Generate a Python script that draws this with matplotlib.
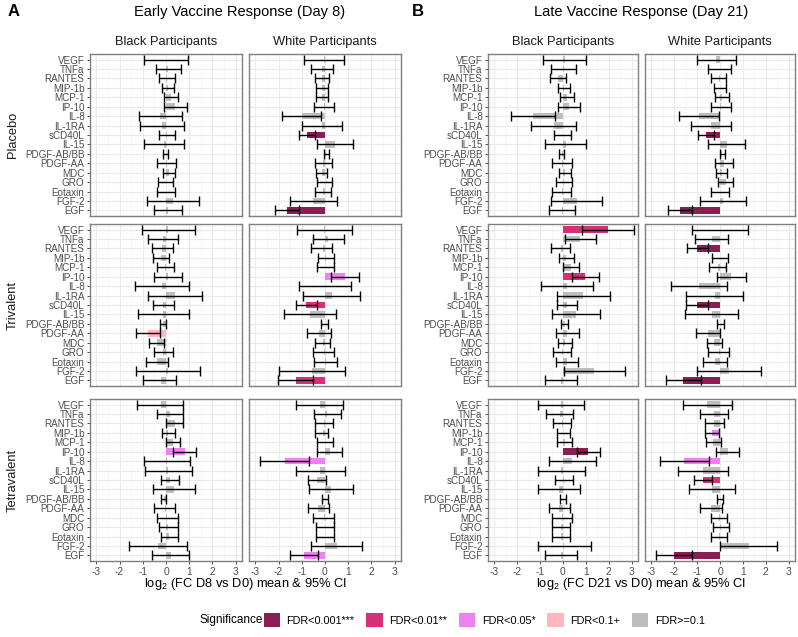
import numpy as np
import matplotlib
matplotlib.use('Agg')
import matplotlib.pyplot as plt
from matplotlib.patches import Patch

plt.rcParams['font.family'] = ['Liberation Sans', 'DejaVu Sans']
plt.rcParams['mathtext.fontset'] = 'custom'
plt.rcParams['mathtext.rm'] = 'Liberation Sans'

cytokines = ['VEGF', 'TNFa', 'RANTES', 'MIP-1b', 'MCP-1', 'IP-10', 'IL-8', 'IL-1RA', 'sCD40L',
             'IL-15', 'PDGF-AB/BB', 'PDGF-AA', 'MDC', 'GRO', 'Eotaxin', 'FGF-2', 'EGF']
groups = ['Placebo', 'Trivalent', 'Tetravalent']
races = ['Black Participants', 'White Participants']
sig_labels = ['FDR<0.001***', 'FDR<0.01**', 'FDR<0.05*', 'FDR<0.1+', 'FDR>=0.1']
sig_colors = ['#8B1D55', '#D63079', '#EE82EE', '#FFB6C1', '#BEBEBE']
# sig code: 0 = FDR<0.001 ... 4 = FDR>=0.1

# ---- Early (Day 8) ----
epb_mean = [0.0, 0.1, 0.04, 0.09, 0.21, 0.39, -0.24, -0.16, 0.04, -0.1, -0.01, 0.03, 0.12, -0.02, 0.0, 0.29, 0.07]
epb_lo = [-0.93, -0.43, -0.31, -0.19, -0.07, -0.1, -1.17, -1.11, -0.31, -0.96, -0.13, -0.39, -0.14, -0.36, -0.4, -0.81, -0.53]
epb_hi = [0.93, 0.64, 0.39, 0.36, 0.5, 0.89, 0.69, 0.79, 0.39, 0.76, 0.1, 0.44, 0.39, 0.31, 0.39, 1.4, 0.67]
epb_sig = [4, 4, 4, 4, 4, 4, 4, 4, 4, 4, 4, 4, 4, 4, 4, 4, 4]

epw_mean = [-0.04, -0.13, -0.14, -0.12, -0.14, -0.04, -1.01, -0.14, -0.77, 0.43, 0.05, -0.07, -0.13, -0.01, -0.09, -0.5, -1.62]
epw_lo = [-0.89, -0.61, -0.44, -0.37, -0.4, -0.49, -1.86, -1.0, -1.1, -0.33, -0.06, -0.44, -0.37, -0.33, -0.44, -1.5, -2.14]
epw_hi = [0.81, 0.36, 0.17, 0.13, 0.11, 0.4, -0.16, 0.73, -0.43, 1.19, 0.16, 0.31, 0.1, 0.31, 0.26, 0.5, -1.1]
epw_sig = [4, 4, 4, 4, 4, 4, 4, 4, 0, 4, 4, 4, 4, 4, 4, 4, 0]

etb_mean = [0.1, -0.13, -0.16, -0.21, -0.03, 0.09, -0.16, 0.39, -0.11, -0.11, -0.11, -0.76, -0.4, -0.11, -0.38, 0.07, -0.2]
etb_lo = [-1.04, -0.79, -0.6, -0.54, -0.39, -0.5, -1.33, -0.79, -0.54, -1.19, -0.24, -1.29, -0.74, -0.53, -0.87, -1.31, -0.97]
etb_hi = [1.24, 0.53, 0.29, 0.11, 0.33, 0.67, 1.0, 1.57, 0.33, 0.97, 0.01, -0.24, -0.07, 0.31, 0.1, 1.46, 0.44]
etb_sig = [4, 4, 4, 4, 4, 4, 4, 4, 4, 4, 4, 3, 4, 4, 4, 4, 4]

etw_mean = [-0.03, 0.13, -0.1, 0.04, 0.0, 0.86, 0.0, 0.29, -0.8, -0.64, -0.01, -0.25, -0.1, -0.06, 0.03, -0.55, -1.26]
etw_lo = [-1.21, -0.53, -0.61, -0.29, -0.36, 0.24, -1.11, -0.93, -1.26, -1.76, -0.16, -0.79, -0.43, -0.5, -0.47, -1.97, -2.01]
etw_hi = [1.15, 0.83, 0.29, 0.39, 0.4, 1.48, 1.1, 1.51, -0.33, 0.47, 0.14, 0.27, 0.23, 0.39, 0.53, 0.86, -0.5]
etw_sig = [4, 4, 4, 4, 4, 2, 4, 4, 1, 4, 4, 4, 4, 4, 4, 4, 1]

eqb_mean = [-0.22, 0.18, 0.38, 0.1, 0.29, 0.8, 0.04, 0.1, 0.17, 0.33, -0.1, -0.05, 0.05, 0.1, 0.15, -0.35, 0.2]
eqb_lo = [-1.24, -0.39, 0.01, -0.19, -0.01, 0.29, -0.96, -0.91, -0.2, -0.57, -0.2, -0.5, -0.4, -0.3, -0.2, -1.6, -0.6]
eqb_hi = [0.74, 0.74, 0.74, 0.39, 0.6, 1.29, 1.03, 1.1, 0.54, 1.24, 0.01, 0.39, 0.5, 0.5, 0.5, 0.9, 1.0]
eqb_sig = [4, 4, 4, 4, 4, 2, 4, 4, 4, 4, 4, 4, 4, 4, 4, 4, 4]

eqw_mean = [-0.2, 0.1, -0.04, -0.1, 0.0, 0.2, -1.74, -0.2, -0.34, 0.25, -0.01, -0.3, -0.05, 0.0, 0.0, 0.5, -0.9]
eqw_lo = [-1.26, -0.47, -0.43, -0.43, -0.33, -0.33, -2.79, -1.26, -0.74, -0.7, -0.14, -0.74, -0.5, -0.4, -0.4, -0.6, -1.5]
eqw_hi = [0.79, 0.69, 0.34, 0.14, 0.33, 0.74, -0.69, 0.84, 0.06, 1.2, 0.11, 0.17, 0.4, 0.4, 0.4, 1.6, -0.3]
eqw_sig = [4, 4, 4, 4, 4, 4, 2, 4, 4, 4, 4, 4, 4, 4, 4, 4, 2]

# ---- Late (Day 21) ----
lpb_mean = [0.07, 0.03, -0.22, 0.05, 0.17, 0.25, -1.31, -0.41, -0.02, 0.12, -0.06, -0.04, 0.09, 0.04, -0.06, 0.59, -0.04]
lpb_lo = [-0.88, -0.51, -0.58, -0.22, -0.12, -0.22, -2.26, -1.39, -0.39, -0.77, -0.18, -0.48, -0.18, -0.32, -0.48, -0.53, -0.63]
lpb_hi = [1.02, 0.57, 0.13, 0.32, 0.47, 0.73, -0.36, 0.57, 0.35, 1.01, 0.06, 0.39, 0.35, 0.39, 0.35, 1.71, 0.54]
lpb_sig = [4, 4, 4, 4, 4, 4, 4, 4, 4, 4, 4, 4, 4, 4, 4, 4, 4]

lpw_mean = [-0.16, -0.02, -0.05, 0.01, 0.09, 0.04, -0.93, -0.39, -0.63, 0.3, 0.1, 0.16, 0.07, 0.25, 0.0, 0.13, -1.74]
lpw_lo = [-1.02, -0.51, -0.38, -0.25, -0.2, -0.41, -1.8, -1.27, -0.98, -0.51, 0.0, -0.23, -0.18, -0.09, -0.38, -0.88, -2.26]
lpw_hi = [0.7, 0.47, 0.28, 0.26, 0.38, 0.5, -0.06, 0.5, -0.28, 1.11, 0.2, 0.55, 0.32, 0.58, 0.38, 1.14, -1.2]
lpw_sig = [4, 4, 4, 4, 4, 4, 4, 4, 0, 4, 4, 4, 4, 4, 4, 4, 0]

ltb_mean = [1.97, 0.76, -0.1, 0.15, 0.34, 0.98, 0.18, 0.88, 0.16, 0.56, 0.07, 0.19, 0.1, -0.05, 0.17, 1.37, -0.1]
ltb_lo = [0.83, 0.1, -0.54, -0.18, -0.01, 0.39, -0.95, -0.28, -0.28, -0.48, -0.07, -0.32, -0.22, -0.45, -0.32, 0.04, -0.8]
ltb_hi = [3.11, 1.42, 0.32, 0.47, 0.69, 1.56, 1.31, 2.04, 0.61, 1.61, 0.22, 0.7, 0.41, 0.36, 0.66, 2.7, 0.61]
ltb_sig = [1, 4, 4, 4, 4, 1, 4, 4, 4, 4, 4, 4, 4, 4, 4, 4, 4]

ltw_mean = [-0.02, -0.37, -1.0, 0.0, -0.1, 0.49, -0.92, -0.2, -1.0, -0.37, 0.02, -0.52, -0.25, -0.06, -0.23, 0.4, -1.6]
ltw_lo = [-1.24, -1.09, -1.45, -0.35, -0.48, -0.13, -2.15, -1.47, -1.47, -1.52, -0.13, -1.05, -0.58, -0.51, -0.74, -1.0, -2.36]
ltw_hi = [1.21, 0.34, -0.53, 0.34, 0.28, 1.12, 0.31, 1.02, -0.53, 0.77, 0.18, 0.01, 0.09, 0.38, 0.29, 1.8, -0.83]
ltw_sig = [4, 4, 0, 4, 4, 4, 4, 4, 0, 4, 4, 4, 4, 4, 4, 4, 0]

lqb_mean = [-0.09, -0.15, -0.04, 0.01, 0.07, 1.09, 0.41, -0.08, 0.04, -0.17, 0.01, -0.16, -0.05, -0.1, -0.1, 0.05, -0.1]
lqb_lo = [-1.09, -0.73, -0.42, -0.26, -0.26, 0.61, -0.6, -1.11, -0.36, -1.09, -0.12, -0.61, -0.5, -0.5, -0.5, -1.1, -0.8]
lqb_hi = [0.91, 0.44, 0.35, 0.29, 0.39, 1.61, 1.42, 0.95, 0.44, 0.76, 0.13, 0.29, 0.4, 0.3, 0.3, 1.2, 0.6]
lqb_sig = [4, 4, 4, 4, 4, 0, 4, 4, 4, 4, 4, 4, 4, 4, 4, 4, 4]

lqw_mean = [-0.55, -0.28, -0.24, -0.36, -0.29, 0.33, -1.55, -0.72, -0.74, -0.33, 0.01, -0.4, -0.05, 0.05, -0.05, 1.25, -2.0]
lqw_lo = [-1.62, -0.89, -0.64, -0.66, -0.63, -0.18, -2.63, -1.81, -1.15, -1.33, -0.13, -0.88, -0.4, -0.3, -0.4, 0.0, -2.8]
lqw_hi = [0.51, 0.34, 0.16, -0.06, 0.04, 0.85, -0.48, 0.36, -0.35, 0.66, 0.15, 0.07, 0.3, 0.4, 0.3, 2.5, -1.2]
lqw_sig = [4, 4, 4, 2, 4, 4, 2, 4, 1, 4, 4, 4, 4, 4, 4, 4, 0]

# panel grid: [timepoint][group][race]
cells = [
    [[(epb_mean, epb_lo, epb_hi, epb_sig), (epw_mean, epw_lo, epw_hi, epw_sig)],
     [(etb_mean, etb_lo, etb_hi, etb_sig), (etw_mean, etw_lo, etw_hi, etw_sig)],
     [(eqb_mean, eqb_lo, eqb_hi, eqb_sig), (eqw_mean, eqw_lo, eqw_hi, eqw_sig)]],
    [[(lpb_mean, lpb_lo, lpb_hi, lpb_sig), (lpw_mean, lpw_lo, lpw_hi, lpw_sig)],
     [(ltb_mean, ltb_lo, ltb_hi, ltb_sig), (ltw_mean, ltw_lo, ltw_hi, ltw_sig)],
     [(lqb_mean, lqb_lo, lqb_hi, lqb_sig), (lqw_mean, lqw_lo, lqw_hi, lqw_sig)]],
]

W, H = 798, 637
fig = plt.figure(figsize=(W / 100, H / 100), dpi=100)

def px_axes(x0, x1, y0, y1):
    return fig.add_axes([x0 / W, 1 - y1 / H, (x1 - x0) / W, (y1 - y0) / H])

cols_px = [[(90, 242), (249, 401)], [(488, 638), (645, 795)]]
rows_px = [(54, 216), (224, 386), (399, 561)]
ypos = np.arange(len(cytokines))[::-1]
txtcol = '#4D4D4D'
xmax = 3.27

for t in range(2):
    for g in range(3):
        for r in range(2):
            mean, lo, hi, sig = cells[t][g][r]
            mean = np.array(mean); lo = np.array(lo); hi = np.array(hi)
            ax = px_axes(cols_px[t][r][0], cols_px[t][r][1], rows_px[g][0], rows_px[g][1])
            ax.barh(ypos, mean, height=0.7, color=[sig_colors[s] for s in sig], zorder=2)
            inside = hi < xmax
            ax.errorbar(mean[inside], ypos[inside], xerr=[mean[inside] - lo[inside], hi[inside] - mean[inside]],
                        fmt='none', ecolor='black', elinewidth=1.0, capsize=3.4, capthick=1.0, zorder=3)
            # CI running off the axis: only the lower cap shows
            if (~inside).any():
                ax.plot(lo[~inside], ypos[~inside], ls='none', marker='|', ms=6.5, mew=1.0, color='black', zorder=3)
            ax.set_xlim(-xmax, xmax)
            ax.set_ylim(-0.6, len(cytokines) - 0.4)
            ax.set_xticks(range(-3, 4))
            ax.set_xticks(np.arange(-2.5, 3, 1.0), minor=True)
            ax.set_yticks(ypos)
            ax.grid(which='major', color='#EBEBEB', lw=0.8, zorder=0)
            ax.grid(which='minor', axis='x', color='#F3F3F3', lw=0.5, zorder=0)
            ax.set_axisbelow(True)
            for sp in ax.spines.values():
                sp.set_color('#7F7F7F')
                sp.set_linewidth(1.0)
            ax.tick_params(which='minor', length=0)
            ax.tick_params(which='major', length=2.5, width=0.6, color='#333333',
                           labelsize=7.4, labelcolor=txtcol, pad=1.5)
            if r == 0:
                ax.set_yticklabels(cytokines, fontsize=7.1)
            else:
                ax.tick_params(axis='y', length=0, labelleft=False)
            if g == 2:
                ax.set_xticklabels([str(v) for v in range(-3, 4)])
            else:
                ax.tick_params(axis='x', length=0, labelbottom=False)

# strip labels
for t in range(2):
    for r in range(2):
        x0, x1 = cols_px[t][r]
        fig.text((x0 + x1) / 2 / W, 1 - 42 / H, races[r], ha='center', va='center', fontsize=9.3, color='#1A1A1A')
for g in range(3):
    y0, y1 = rows_px[g]
    fig.text(13 / W, 1 - (y0 + y1) / 2 / H, groups[g], ha='center', va='center', rotation=90,
             fontsize=9.3, color='#1A1A1A')

# titles
fig.text(8 / W, 1 - 12 / H, 'A', fontsize=12, fontweight='bold', va='center')
fig.text(240 / W, 1 - 12 / H, 'Early Vaccine Response (Day 8)', fontsize=10.5, ha='center', va='center')
fig.text(412 / W, 1 - 12 / H, 'B', fontsize=12, fontweight='bold', va='center')
fig.text(641 / W, 1 - 12 / H, 'Late Vaccine Response (Day 21)', fontsize=10.5, ha='center', va='center')

# x axis titles
fig.text(245 / W, 1 - 584 / H, r'log$_2$ (FC D8 vs D0) mean & 95% CI', fontsize=9.3, ha='center', va='center')
fig.text(641 / W, 1 - 584 / H, r'log$_2$ (FC D21 vs D0) mean & 95% CI', fontsize=9.3, ha='center', va='center')

# legend
fig.text(200 / W, 1 - 620 / H, 'Significance', fontsize=8.5, ha='left', va='center')
handles = [Patch(facecolor=c, edgecolor='none') for c in sig_colors]
fig.legend(handles, sig_labels, loc='center left', bbox_to_anchor=(254 / W, 1 - 620 / H), ncol=5,
           frameon=False, fontsize=7.8, handlelength=1.5, handleheight=1.5, columnspacing=1.1,
           handletextpad=0.6)

fig.savefig('out.png', dpi=100)
